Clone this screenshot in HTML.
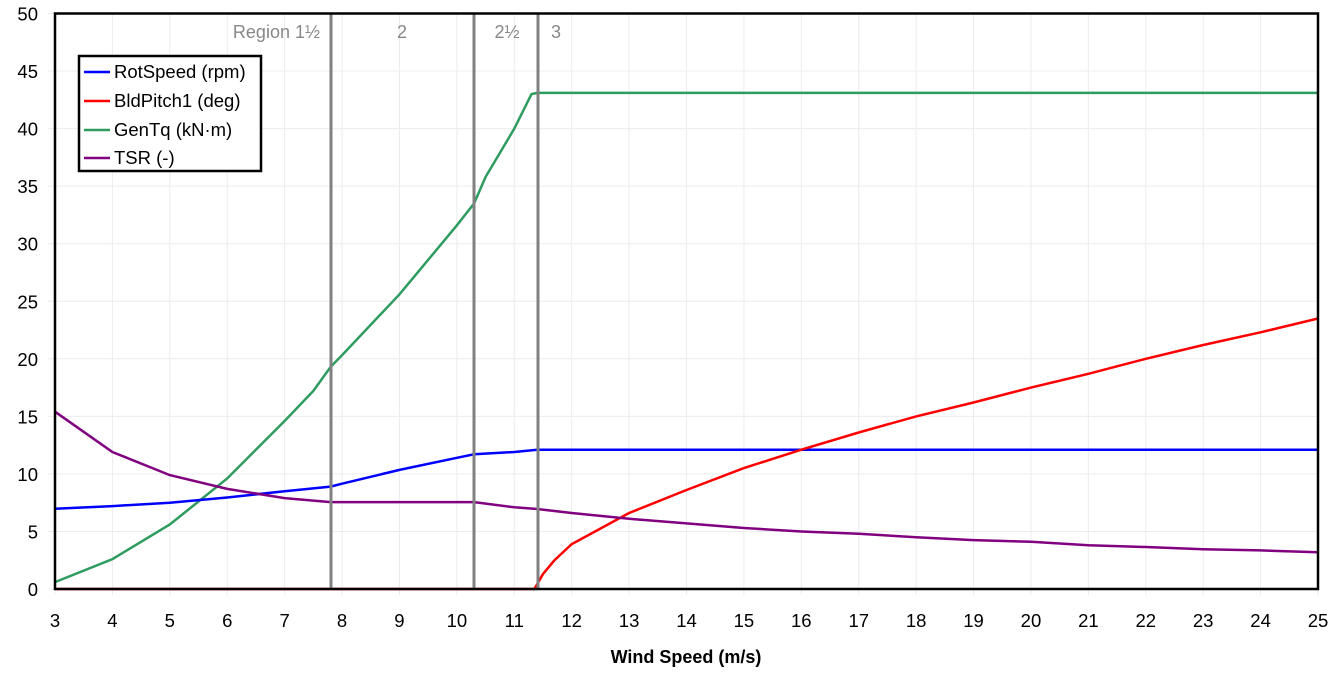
<!DOCTYPE html>
<html><head><meta charset="utf-8"><style>
body{margin:0;background:#fff;width:1335px;height:672px;overflow:hidden}
svg{font-family:"Liberation Sans",Arial,sans-serif}
</style></head><body>
<svg id="s" width="1335" height="672" xmlns="http://www.w3.org/2000/svg">
<g id="grid" stroke="#ececec" stroke-width="1"></g>
<g id="ticks" font-size="18.5" fill="#000"></g>
<g id="series" fill="none" stroke-width="2.5"></g>
<line x1="331" y1="13" x2="331" y2="589" stroke="#808080" stroke-width="3"/>
<line x1="474" y1="13" x2="474" y2="589" stroke="#808080" stroke-width="3"/>
<line x1="538" y1="13" x2="538" y2="589" stroke="#808080" stroke-width="3"/>
<g font-size="18" fill="#888">
<text x="320" y="38" text-anchor="end">Region 1½</text>
<text x="402" y="38" text-anchor="middle">2</text>
<text x="507" y="38" text-anchor="middle">2½</text>
<text x="556" y="38" text-anchor="middle">3</text>
</g>
<rect x="55" y="13.5" width="1263" height="575.5" fill="none" stroke="#000" stroke-width="2.5"/>
<rect x="79" y="56" width="182" height="115" fill="#fff" stroke="#000" stroke-width="2.5"/>
<g stroke-width="2.5">
<line x1="84" y1="72" x2="110" y2="72" stroke="#0000ff"/>
<line x1="84" y1="101" x2="110" y2="101" stroke="#ff0000"/>
<line x1="84" y1="130" x2="110" y2="130" stroke="#2e9b5f"/>
<line x1="84" y1="158" x2="110" y2="158" stroke="#800080"/>
</g>
<g font-size="18.5" fill="#000">
<text x="114" y="78">RotSpeed (rpm)</text>
<text x="114" y="107">BldPitch1 (deg)</text>
<text x="114" y="136">GenTq (kN·m)</text>
<text x="114" y="164">TSR (-)</text>
</g>
<text x="686" y="663" font-size="18" font-weight="bold" text-anchor="middle">Wind Speed (m/s)</text>
</svg>
<script>
var X=function(v){return 55+(v-3)*1263/22},Y=function(v){return 589-v*11.51};
var ns="http://www.w3.org/2000/svg";
function el(p,t,a,txt){var e=document.createElementNS(ns,t);for(var k in a)e.setAttribute(k,a[k]);if(txt!=null)e.textContent=txt;document.getElementById(p).appendChild(e);}
for(var i=3;i<=25;i++){el("grid","line",{x1:X(i),y1:13,x2:X(i),y2:595});el("ticks","text",{x:X(i),y:627,"text-anchor":"middle"},i);}
for(var j=0;j<=50;j+=5){el("grid","line",{x1:48,y1:Y(j),x2:1318,y2:Y(j)});el("ticks","text",{x:38,y:Y(j)+7,"text-anchor":"end"},j);}
var S=[
["#2e9b5f",[[3,0.6],[4,2.6],[5,5.6],[6,9.6],[7,14.6],[7.5,17.2],[7.8,19.3],[8,20.3],[9,25.6],[10,31.6],[10.3,33.5],[10.5,35.8],[11,40],[11.3,43],[11.4,43.1],[25,43.1]]],
["#0000ff",[[3,6.97],[4,7.2],[5,7.5],[6,7.95],[7,8.5],[7.8,8.9],[8,9.15],[9,10.35],[10,11.4],[10.3,11.7],[11,11.9],[11.4,12.1],[25,12.1]]],
["#ff0000",[[3,0],[11.35,0],[11.5,1.3],[11.7,2.5],[12,3.9],[13,6.6],[14,8.6],[15,10.5],[16,12.1],[17,13.6],[18,15],[19,16.2],[20,17.5],[21,18.7],[22,20],[23,21.2],[24,22.3],[25,23.5]]],
["#800080",[[3,15.4],[4,11.9],[5,9.9],[6,8.7],[7,7.9],[7.8,7.55],[10.3,7.55],[11,7.1],[11.4,6.95],[12,6.6],[13,6.1],[14,5.7],[15,5.3],[16,5.0],[17,4.8],[18,4.5],[19,4.25],[20,4.1],[21,3.8],[22,3.65],[23,3.45],[24,3.35],[25,3.2]]]];
S.forEach(function(s){el("series","polyline",{stroke:s[0],points:s[1].map(function(p){return X(p[0]).toFixed(1)+","+Y(p[1]).toFixed(1)}).join(" ")});});
</script>
</body></html>
